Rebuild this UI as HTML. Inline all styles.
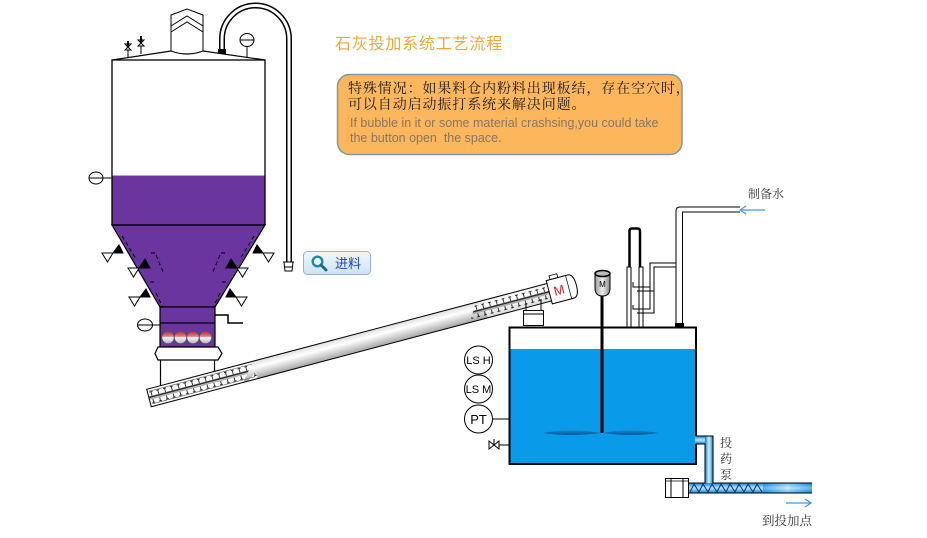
<!DOCTYPE html>
<html><head><meta charset="utf-8"><style>
html,body{margin:0;padding:0;background:#fff;}
svg{display:block;}
.cn{font-family:"Liberation Serif","Noto Serif CJK SC",serif;}
.sans{font-family:"Liberation Sans","Noto Sans CJK SC",sans-serif;}
</style></head><body>
<svg width="927" height="538" viewBox="0 0 927 538" xmlns="http://www.w3.org/2000/svg">
<defs>
 <linearGradient id="tubeG" x1="0" y1="0" x2="0" y2="1">
  <stop offset="0" stop-color="#dedede"/><stop offset="0.35" stop-color="#ffffff"/>
  <stop offset="0.7" stop-color="#d0d0d0"/><stop offset="1" stop-color="#a4a4a4"/>
 </linearGradient>
 <linearGradient id="ballG" x1="0" y1="0" x2="0" y2="1">
  <stop offset="0" stop-color="#c02838"/><stop offset="0.4" stop-color="#e07a86"/>
  <stop offset="0.5" stop-color="#f4f4f4"/><stop offset="1" stop-color="#b4b4b4"/>
 </linearGradient>
 <linearGradient id="pV" x1="0" y1="0" x2="1" y2="0">
  <stop offset="0" stop-color="#0a86dc"/><stop offset="0.5" stop-color="#d8f0ff"/><stop offset="1" stop-color="#0a86dc"/>
 </linearGradient>
 <linearGradient id="pH" x1="0" y1="0" x2="0" y2="1">
  <stop offset="0" stop-color="#0a86dc"/><stop offset="0.5" stop-color="#bfe6ff"/><stop offset="1" stop-color="#0a86dc"/>
 </linearGradient>
 <linearGradient id="pH2" x1="0" y1="0" x2="1" y2="0">
  <stop offset="0" stop-color="#0a86dc"/><stop offset="0.5" stop-color="#d0eeff"/><stop offset="1" stop-color="#0a86dc"/>
 </linearGradient>
 <linearGradient id="btnG" x1="0" y1="0" x2="0" y2="1">
  <stop offset="0" stop-color="#f2f8fd"/><stop offset="1" stop-color="#cde2f2"/>
 </linearGradient>
 <linearGradient id="motG" x1="0" y1="0" x2="1" y2="0">
  <stop offset="0" stop-color="#9a9a9a"/><stop offset="0.5" stop-color="#eeeeee"/><stop offset="1" stop-color="#8a8a8a"/>
 </linearGradient>
 <linearGradient id="bladeG" x1="0" y1="0" x2="0" y2="1">
  <stop offset="0" stop-color="#1a7fc8"/><stop offset="1" stop-color="#07599a"/>
 </linearGradient>
 <pattern id="screw" patternUnits="userSpaceOnUse" width="7" height="20" x="0" y="-10">
  <line x1="0" y1="9.5" x2="7" y2="9.5" stroke="#222" stroke-width="1.6"/>
  <line x1="0" y1="11.3" x2="7" y2="11.3" stroke="#999" stroke-width="1"/>
  <line x1="3.5" y1="4" x2="3.5" y2="8.5" stroke="#222" stroke-width="0.9"/>
  <line x1="2" y1="4.5" x2="5" y2="4.5" stroke="#222" stroke-width="0.9"/>
  <line x1="3.5" y1="12" x2="3.5" y2="16" stroke="#222" stroke-width="0.9"/>
  <line x1="2" y1="15.5" x2="5" y2="15.5" stroke="#222" stroke-width="0.9"/>
 </pattern>
</defs>

<!-- ===== Silo ===== -->
<path d="M222,52 L222,39 A33.5,33.5 0 0 1 289,39 L289,262" fill="none" stroke="#000" stroke-width="6"/>
<path d="M222,52 L222,39 A33.5,33.5 0 0 1 289,39 L289,263" fill="none" stroke="#fff" stroke-width="3"/>
<rect x="218" y="49" width="8" height="5" fill="#000"/>
<path d="M283,262 H294 M284,262 L285,271 H292 L293,262 M284.5,267 H292.5" fill="none" stroke="#000" stroke-width="1"/>

<path d="M171,51 V15 L187,9 L203,15 V51" fill="#fff" stroke="#000" stroke-width="1"/>
<path d="M171,26 L187,16 L203,26 M171,32 L187,22 L203,32" fill="none" stroke="#000" stroke-width="1"/>
<path d="M112,60 L171,51 Q187,57 203,51 L265,60" fill="none" stroke="#000" stroke-width="1.2"/>
<g stroke="#000" stroke-width="1" fill="#fff">
 <line x1="128" y1="50" x2="128" y2="57"/>
 <path d="M125,44 L131,50 L125,50 L131,44 Z"/>
 <line x1="128" y1="41" x2="128" y2="47" stroke-width="2"/>
 <line x1="141" y1="46" x2="141" y2="54"/>
 <path d="M138,40 L144,46 L138,46 L144,40 Z"/>
 <line x1="141" y1="36" x2="141" y2="43" stroke-width="2"/>
</g>
<line x1="247" y1="47" x2="247" y2="58" stroke="#000"/>
<ellipse cx="247" cy="40" rx="7" ry="6.5" fill="#fff" stroke="#000"/>
<line x1="240" y1="40" x2="254" y2="40" stroke="#000"/>

<rect x="112" y="175" width="153" height="50" fill="#6a359f"/>
<line x1="112" y1="175.5" x2="265" y2="175.5" stroke="#b9a4d8" stroke-width="1"/>
<path d="M112,225 L265,225 L215,307 L160,307 Z" fill="#6a359f" stroke="#000" stroke-width="1.2"/>
<rect x="112" y="60" width="153" height="165" fill="none" stroke="#000" stroke-width="1.3"/>
<line x1="103" y1="178" x2="112" y2="178" stroke="#000"/>
<ellipse cx="96" cy="178" rx="7" ry="6" fill="#fff" stroke="#000"/>
<line x1="89" y1="178" x2="103" y2="178" stroke="#000"/>

<g stroke="#000" stroke-width="1">
 <path d="M122,236 L136,259 M151,253 H156 M156,255 L164,274 M150,282 H154 V285 M156,293 L163,308" fill="none" stroke-dasharray="4,3"/>
 <path d="M113,253 L119,245 L123,253 Z" fill="#000"/>
 <path d="M102,253 L113,253 L107.5,262 Z" fill="#fff"/>
 <path d="M139,268 L145,259 L150,268 Z" fill="#000"/>
 <path d="M128,268 L139,268 L133.5,277 Z" fill="#fff"/>
 <path d="M140,297 L146,289 L150,297 Z" fill="#000"/>
 <path d="M129,297 L140,297 L134.5,306 Z" fill="#fff"/>
</g>
<g stroke="#000" stroke-width="1" transform="translate(376,0) scale(-1,1)">
 <path d="M122,236 L136,259 M151,253 H156 M156,255 L164,274 M150,282 H154 V285 M156,293 L163,308" fill="none" stroke-dasharray="4,3"/>
 <path d="M113,253 L119,245 L123,253 Z" fill="#000"/>
 <path d="M102,253 L113,253 L107.5,262 Z" fill="#fff"/>
 <path d="M139,268 L145,259 L150,268 Z" fill="#000"/>
 <path d="M128,268 L139,268 L133.5,277 Z" fill="#fff"/>
 <path d="M140,297 L146,289 L150,297 Z" fill="#000"/>
 <path d="M129,297 L140,297 L134.5,306 Z" fill="#fff"/>
</g>

<rect x="160" y="307" width="55" height="40" fill="#6a359f" stroke="#000" stroke-width="1.2"/>
<line x1="160" y1="323" x2="215" y2="323" stroke="#000" stroke-width="1.2"/>
<g stroke="#555" stroke-width="0.8" fill="url(#ballG)">
 <circle cx="168" cy="337.5" r="6.2"/><circle cx="180.5" cy="337.5" r="6.2"/>
 <circle cx="193" cy="337.5" r="6.2"/><circle cx="205.5" cy="337.5" r="6.2"/>
</g>
<line x1="152" y1="325" x2="160" y2="325" stroke="#000"/>
<ellipse cx="145" cy="325" rx="7.5" ry="6" fill="#fff" stroke="#000"/>
<line x1="137" y1="325" x2="152" y2="325" stroke="#000"/>
<path d="M215,315 H228 V323 H243" fill="none" stroke="#000" stroke-width="1.5"/>
<path d="M158,347 H218 L222,353.5 L218,360 H158 L155,353.5 Z" fill="#fff" stroke="#000" stroke-width="1.2"/>
<line x1="160.5" y1="360" x2="160.5" y2="387" stroke="#000" stroke-width="1.2"/>
<line x1="214.5" y1="360" x2="214.5" y2="372" stroke="#000" stroke-width="1.2"/>

<!-- ===== Screw conveyor ===== -->
<g transform="translate(149,398) rotate(-14.8)">
 <rect x="0" y="-9" width="415" height="18" fill="url(#tubeG)"/>
 <rect x="0" y="-9" width="110" height="18" fill="#fff"/>
 <rect x="0" y="-9" width="110" height="18" fill="url(#screw)"/>
 <path d="M110,-9 L125,-9 L100,9 L95,9 Z" fill="url(#tubeG)"/>
 <rect x="348" y="-9" width="67" height="18" fill="#fff" opacity="0.6"/>
 <rect x="345" y="-9" width="70" height="18" fill="url(#screw)"/>
 <path d="M345,-9 L340,-9 L330,9 L345,9 Z" fill="url(#screw)"/>
 <line x1="2" y1="-6.5" x2="108" y2="-6.5" stroke="#555" stroke-width="0.6"/>
 <line x1="2" y1="6.5" x2="108" y2="6.5" stroke="#555" stroke-width="0.6"/>
 <rect x="0" y="-9" width="415" height="18" fill="none" stroke="#000" stroke-width="1"/>
 <rect x="418" y="-16" width="8" height="4" fill="#fff" stroke="#000" stroke-width="0.8"/>
 <path d="M414,-12 H436 Q442,-12 442,0 Q442,12 436,12 H414 Z" fill="#fff" stroke="#000" stroke-width="1"/>
 <line x1="434" y1="-12" x2="434" y2="12" stroke="#000" stroke-width="0.7"/>
 <text x="424" y="5" font-size="13" fill="#e0202a" text-anchor="middle" class="sans">M</text>
</g>
<line x1="526" y1="303" x2="526" y2="311" stroke="#000"/>
<line x1="541" y1="299" x2="541" y2="311" stroke="#000"/>
<rect x="523.5" y="310.5" width="20" height="15" fill="#fff" stroke="#000" stroke-width="1"/>
<line x1="523.5" y1="314" x2="543.5" y2="314" stroke="#000"/>

<!-- ===== Tank ===== -->
<rect x="509.5" y="327.5" width="186.5" height="136.5" fill="#fff"/>
<rect x="509.5" y="349" width="186.5" height="115" fill="#0a9aea"/>
<path d="M543,433 Q570,428 601,433 Q570,437 543,433 Z" fill="url(#bladeG)"/>
<path d="M603,433 Q630,428 659,433 Q630,437 603,433 Z" fill="url(#bladeG)"/>
<line x1="602" y1="295" x2="602" y2="433" stroke="#000" stroke-width="3"/>
<rect x="695" y="436" width="18" height="8" fill="url(#pH)"/>
<rect x="705" y="436" width="8" height="52" fill="url(#pV)"/>
<rect x="688" y="483" width="124" height="10" fill="url(#pH)"/>
<rect x="763" y="483" width="49" height="10" fill="url(#pH2)" opacity="0.5"/>
<path d="M690,492 L694,484 L699,492 L703,484 L708,492 L712,484 L717,492 L721,484 L726,492 L730,484 L735,492 L739,484 L744,492 L748,484 L753,492 L757,484 L762,492" fill="none" stroke="#0b2f78" stroke-width="1"/>
<path d="M696,436 H713 V483 H812 M696,444 H705 V483 H688 M688,493 H812" fill="none" stroke="#000" stroke-width="1"/>
<path d="M696,436 V327.5 H509.5 V464 H696 V444" fill="none" stroke="#000" stroke-width="2"/>
<rect x="665.5" y="478.5" width="23" height="19" fill="#fff" stroke="#000" stroke-width="1"/>
<line x1="671" y1="478.5" x2="671" y2="497.5" stroke="#000"/>
<line x1="683" y1="478.5" x2="683" y2="497.5" stroke="#000"/>
<line x1="665.5" y1="481" x2="688.5" y2="481" stroke="#000" stroke-width="0.7"/>

<path d="M595,274 V288 Q595,296 602.5,296 Q610,296 610,288 V274 Z" fill="url(#motG)" stroke="#000" stroke-width="1"/>
<ellipse cx="602.5" cy="273.5" rx="7.5" ry="3" fill="#bbb" stroke="#000" stroke-width="1.5"/>
<text x="602.5" y="287" font-size="8" text-anchor="middle" class="sans" fill="#000">M</text>

<path d="M629.5,267 V231 Q629.5,228.5 632,228.5 H637.5 Q640,228.5 640,231 V267" fill="#fff" stroke="#000" stroke-width="2.5"/>
<path d="M627,327 V267 H631 M643,327 V267 H639 M631,267 V327 M639,267 V327" fill="none" stroke="#000" stroke-width="1"/>
<path d="M740,207 H680 Q676,207 676,211 V327 M740,212 H682.5 V327" fill="none" stroke="#000" stroke-width="1"/>
<path d="M676,263 H650 V309 H633 V305 M676,267 H654 V313 H637 M650,287 H633 V282 M654,291 H637" fill="none" stroke="#000" stroke-width="1"/>
<rect x="675" y="323" width="9" height="4" fill="#000"/>

<g fill="#fff" stroke="#000" stroke-width="1">
 <circle cx="478.5" cy="360" r="14"/>
 <circle cx="478.5" cy="389" r="14"/>
 <circle cx="478.5" cy="419" r="14"/>
</g>
<line x1="492.5" y1="419" x2="509.5" y2="419" stroke="#000"/>
<g class="sans" font-size="11" fill="#000" text-anchor="middle">
 <text x="478.5" y="364">LS H</text>
 <text x="478.5" y="393">LS M</text>
 <text x="478.5" y="424" font-size="13">PT</text>
</g>
<line x1="499" y1="445" x2="509.5" y2="445" stroke="#000"/>
<path d="M489,441 L499,449 L499,441 L489,449 Z" fill="#fff" stroke="#000" stroke-width="1"/>
<line x1="494" y1="439" x2="494" y2="445" stroke="#000"/>

<path d="M765,210 H740 M746,206 L740,210 L746,214" fill="none" stroke="#3a9ae8" stroke-width="1.2"/>
<text x="748" y="198" font-size="12" class="cn" fill="#333">制备水</text>
<path d="M786,503 H811 M805,499 L811,503 L805,507" fill="none" stroke="#3a9ae8" stroke-width="1.2"/>
<text x="762" y="525" font-size="12.5" class="cn" fill="#333">到投加点</text>
<g class="cn" font-size="12" fill="#333">
 <text x="720" y="447">投</text>
 <text x="720" y="463">药</text>
 <text x="720" y="479">泵</text>
</g>

<text x="335" y="49" font-size="16" letter-spacing="0.8" fill="#f2a63a" font-family="'Liberation Sans','Noto Sans CJK SC',sans-serif">石灰投加系统工艺流程</text>
<rect x="337.5" y="74.5" width="344.5" height="80" rx="12" fill="#fcb75c" stroke="#8099a3" stroke-width="1.5"/>
<g font-family="'Noto Serif CJK SC',serif" font-size="14" letter-spacing="0.9" fill="#1a1a1a">
 <text x="348" y="93">特殊情况：如果料仓内粉料出现板结，存在空穴时，</text>
 <text x="348" y="109">可以自动启动振打系统来解决问题。</text>
</g>
<g class="sans" font-size="12.5" fill="#877664">
 <text x="350" y="127">If bubble in it or some material crashsing,you could take</text>
 <text x="350" y="142">the button open&#160; the space.</text>
</g>

<rect x="303.5" y="251.5" width="67" height="23" rx="4" fill="url(#btnG)" stroke="#94b6cf" stroke-width="1"/>
<circle cx="317.5" cy="261.5" r="4.8" fill="#e8f6fa" stroke="#1c8aa6" stroke-width="2.4"/>
<line x1="321" y1="265" x2="326" y2="270" stroke="#137088" stroke-width="3" stroke-linecap="round"/>
<text x="335" y="268" font-size="13" fill="#1f3fc4" font-family="'Liberation Sans','Noto Sans CJK SC',sans-serif">进料</text>
</svg>
</body></html>
